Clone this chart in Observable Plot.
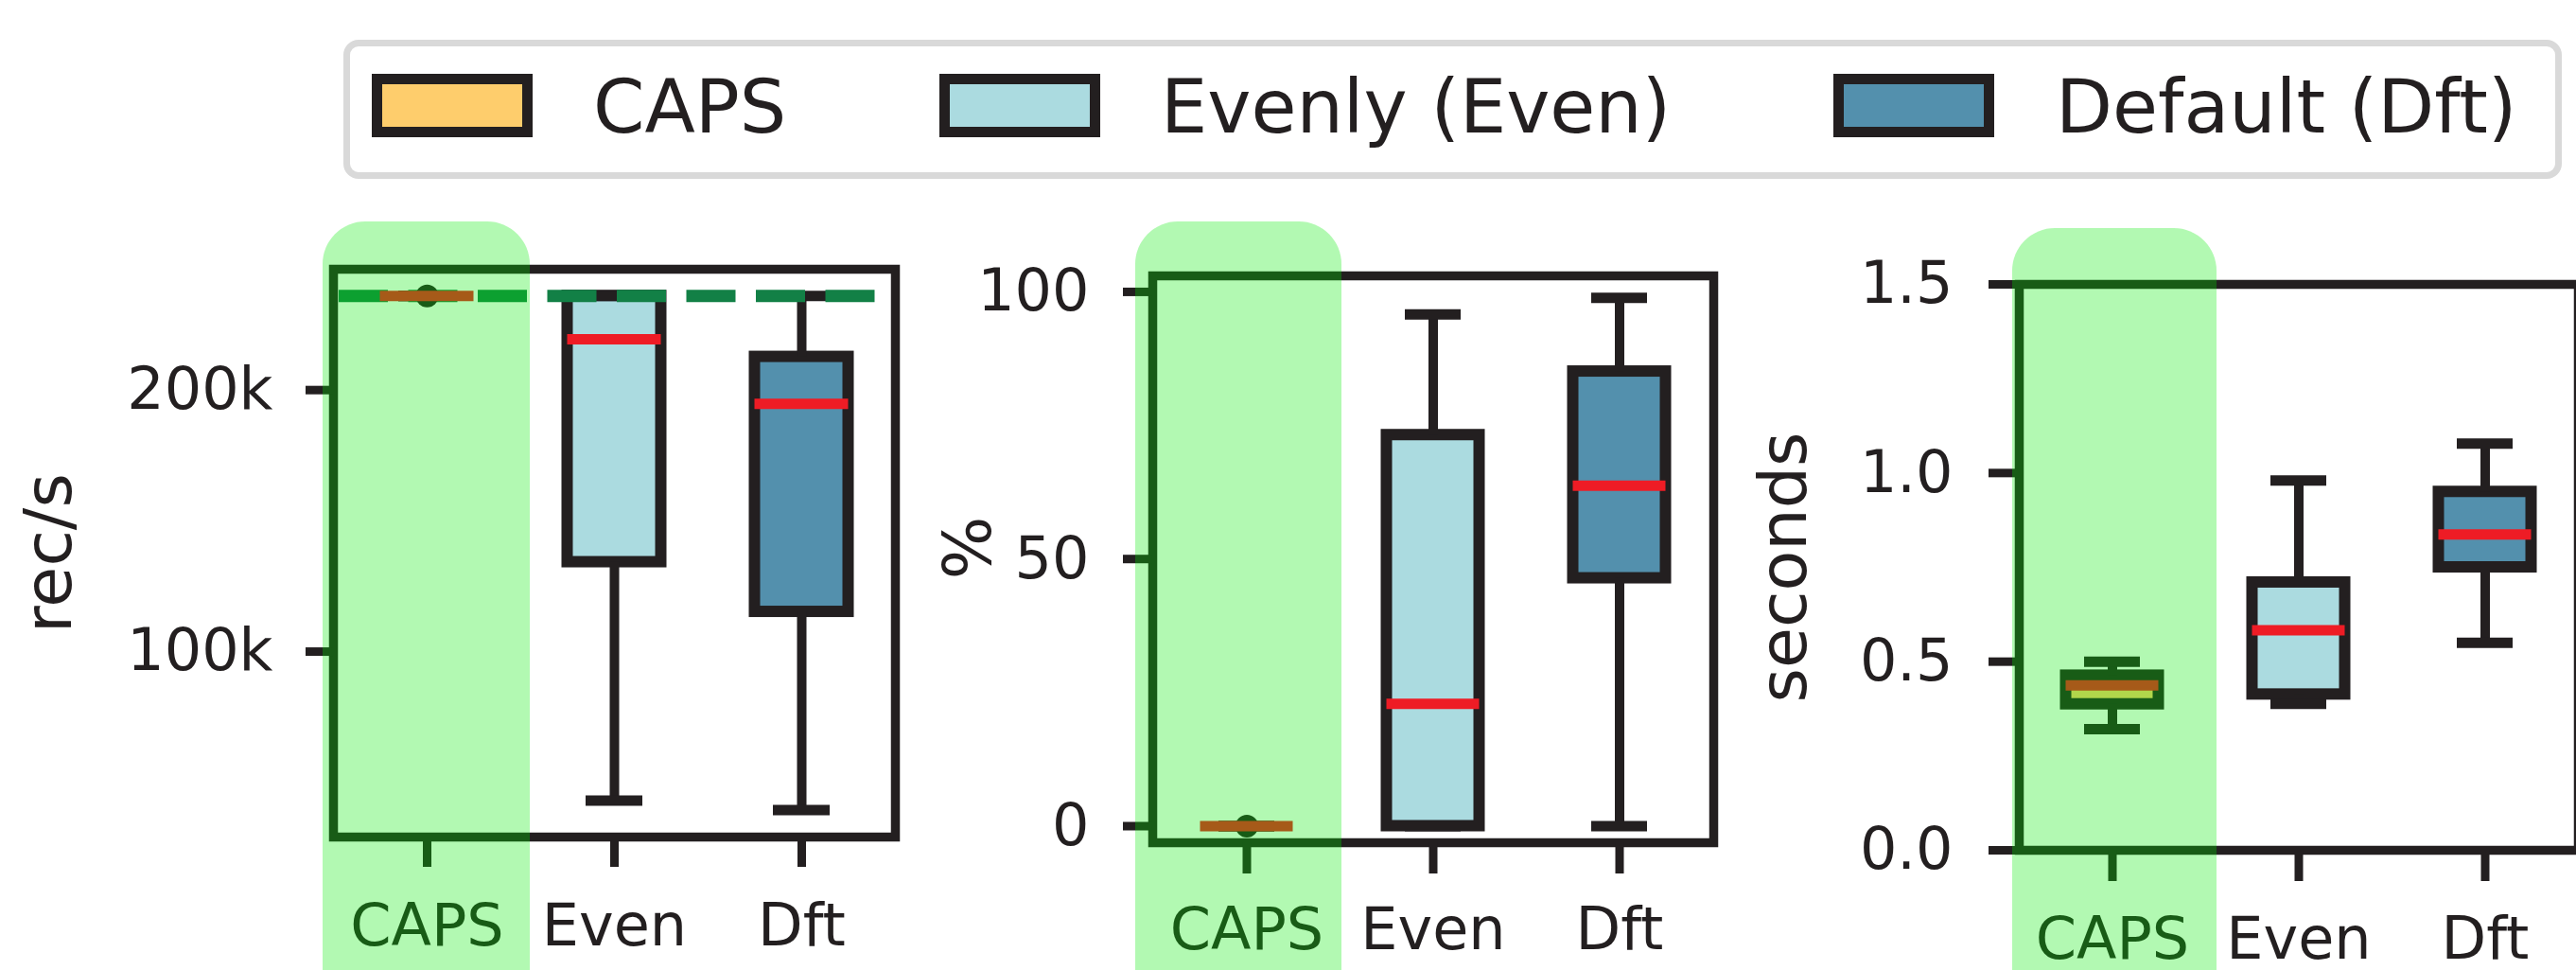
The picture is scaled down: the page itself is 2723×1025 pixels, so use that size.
<!DOCTYPE html>
<html>
<head>
<meta charset="utf-8">
<script src="https://cdn.jsdelivr.net/npm/d3@7"></script>
<script src="https://cdn.jsdelivr.net/npm/@observablehq/plot@0.6"></script>
<style>
html, body { margin: 0; padding: 0; background: #fff; overflow: hidden; }
#fig { position: relative; width: 2723px; height: 1025px; overflow: hidden; background: #fff; font-family: "DejaVu Sans"; color: #231f20; }
.panel { position: absolute; top: 200px; }
.legend { position: absolute; left: 363px; top: 42px; width: 2345px; height: 147px; box-sizing: border-box; border: 7px solid #d9d9d9; border-radius: 16px; }
.sw { position: absolute; box-sizing: border-box; border: 11px solid #231f20; top: 78px; width: 170px; height: 67px; }
.lab { position: absolute; font-size: 78px; line-height: 78px; top: 74px; white-space: nowrap; }
</style>
</head>
<body>
<div id="fig"></div>
<script>
// ---------- data ----------
const categories = ["CAPS", "Even", "Dft"];
const legendLabels = ["CAPS", "Evenly (Even)", "Default (Dft)"];
const colors = ["#fecd6c", "#abdbe0", "#5390ad"];

// Panel 1: throughput (rec/s)
const thrLow    = [236000,  43000,  39400];
const thrQ1     = [236000, 134200, 115200];
const thrMedian = [236000, 219400, 194700];
const thrQ3     = [236000, 236000, 212700];
const thrHigh   = [236000, 236000, 236000];
const thrDots   = [{cat: "CAPS", v: 236000}];
const thrTarget = [236000];
const thrTicks  = [100000, 200000];

// Panel 2: percent
const pctLow    = [0,  0,    0];
const pctQ1     = [0,  0,    46.4];
const pctMedian = [0,  22.9, 63.7];
const pctQ3     = [0,  73.2, 85.1];
const pctHigh   = [0,  95.8, 98.9];
const pctDots   = [{cat: "CAPS", v: 0}];
const pctTicks  = [0, 50, 100];

// Panel 3: seconds
const secLow    = [0.321, 0.388, 0.550];
const secQ1     = [0.387, 0.413, 0.750];
const secMedian = [0.437, 0.583, 0.837];
const secQ3     = [0.463, 0.710, 0.950];
const secHigh   = [0.500, 0.980, 1.078];
const secDots   = [];
const secTicks  = [0, 0.5, 1.0, 1.5];

const highlighted = ["CAPS"];

// ---------- helpers ----------
const INK = "#231f20";
const fig = document.getElementById("fig");

// legend
const legend = document.createElement("div");
legend.className = "legend";
fig.appendChild(legend);
const swLeft = [393, 993, 1938];
const labLeft = [627, 1227, 2173];
legendLabels.forEach((t, i) => {
  const sw = document.createElement("div");
  sw.className = "sw";
  sw.style.left = swLeft[i] + "px";
  sw.style.background = colors[i];
  fig.appendChild(sw);
  const lb = document.createElement("div");
  lb.className = "lab";
  lb.style.left = labLeft[i] + "px";
  lb.textContent = t;
  fig.appendChild(lb);
});

function panel(cfg) {
  const rows = categories.map((c, i) => ({
    cat: c, low: cfg.low[i], q1: cfg.q1[i], med: cfg.med[i], q3: cfg.q3[i], high: cfg.high[i]
  }));
  const marks = [
    Plot.barY(rows, {x: "cat", y1: "q1", y2: "q3", fill: "cat", stroke: INK, strokeWidth: 12, insetLeft: 49.5, insetRight: 49.5}),
    Plot.ruleX(rows, {x: "cat", y1: "low", y2: "q1", stroke: INK, strokeWidth: 10}),
    Plot.ruleX(rows, {x: "cat", y1: "q3", y2: "high", stroke: INK, strokeWidth: 10}),
    Plot.tickY(rows, {x: "cat", y: "low", stroke: INK, strokeWidth: 11, insetLeft: 69, insetRight: 69}),
    Plot.tickY(rows, {x: "cat", y: "high", stroke: INK, strokeWidth: 11, insetLeft: 69, insetRight: 69})
  ];
  if (cfg.target) marks.push(Plot.ruleY(cfg.target, {stroke: "#128046", strokeWidth: 13, strokeDasharray: "52,21.5", strokeDashoffset: -6}));
  marks.push(
    Plot.dot(cfg.dots, {x: "cat", y: "v", r: 12, fill: INK, stroke: "none"}),
    Plot.tickY(rows, {x: "cat", y: "med", stroke: "#ee1c25", strokeWidth: 11, insetLeft: 49.5, insetRight: 49.5}),
    Plot.frame({stroke: INK, strokeWidth: 9.5}),
    Plot.axisY({ticks: cfg.ticks, tickFormat: cfg.fmt, tickSize: cfg.ytick, tickPadding: cfg.ypad, strokeWidth: 9, fontSize: 62, label: null}),
    Plot.axisX({tickSize: cfg.xtick, tickPadding: cfg.xpad, strokeWidth: 9, fontSize: 62, label: null}),
    Plot.text([cfg.label], {frameAnchor: "left", textAnchor: "middle", dx: cfg.labelDx, dy: cfg.labelDy, rotate: -90, fontSize: 70, fill: INK}),
    Plot.barY(highlighted, {x: d => d, y1: cfg.domain[0], y2: cfg.domain[1], fill: "rgb(0,235,0)", fillOpacity: 0.3, rx: 45,
      insetLeft: cfg.hl[0], insetRight: cfg.hl[1], insetTop: cfg.hl[2], insetBottom: -400})
  );
  const svg = Plot.plot({
    width: cfg.width, height: 825,
    marginLeft: cfg.m[0], marginRight: cfg.m[1], marginTop: cfg.m[2], marginBottom: cfg.m[3],
    x: {domain: categories, padding: 0},
    y: {domain: cfg.domain},
    color: {domain: categories, range: colors},
    style: {fontFamily: "DejaVu Sans", fontSize: "62px", color: INK, background: "transparent"},
    marks
  });
  const div = document.createElement("div");
  div.className = "panel";
  div.style.left = cfg.left + "px";
  div.style.width = cfg.width + "px";
  div.appendChild(svg);
  fig.appendChild(div);
}

panel({
  left: 0, width: 960, m: [352, 14, 84, 141], domain: [29100, 246200],
  low: thrLow, q1: thrQ1, med: thrMedian, q3: thrQ3, high: thrHigh, dots: thrDots, target: thrTarget,
  ticks: thrTicks, fmt: d => (d / 1000) + "k", ytick: 29, ypad: 35, xtick: 32, xpad: 38,
  label: "rec/s", labelDx: -300, labelDy: 0, hl: [-11, -10, -50]
});
panel({
  left: 960, width: 870, m: [258, 19, 91, 135], domain: [-3.1, 103],
  low: pctLow, q1: pctQ1, med: pctMedian, q3: pctQ3, high: pctHigh, dots: pctDots, target: null,
  ticks: pctTicks, fmt: d3.format("d"), ytick: 31, ypad: 36, xtick: 33, xpad: 35,
  label: "%", labelDx: -194, labelDy: -12, hl: [-19, -2, -57]
});
panel({
  left: 1830, width: 897, m: [304, 2, 100, 127], domain: [0, 1.5],
  low: secLow, q1: secQ1, med: secMedian, q3: secQ3, high: secHigh, dots: secDots, target: null,
  ticks: secTicks, fmt: d3.format(".1f"), ytick: 32, ypad: 38, xtick: 33, xpad: 37,
  label: "seconds", labelDx: -248, labelDy: 0, hl: [-7, -12, -59]
});
</script>
</body>
</html>
